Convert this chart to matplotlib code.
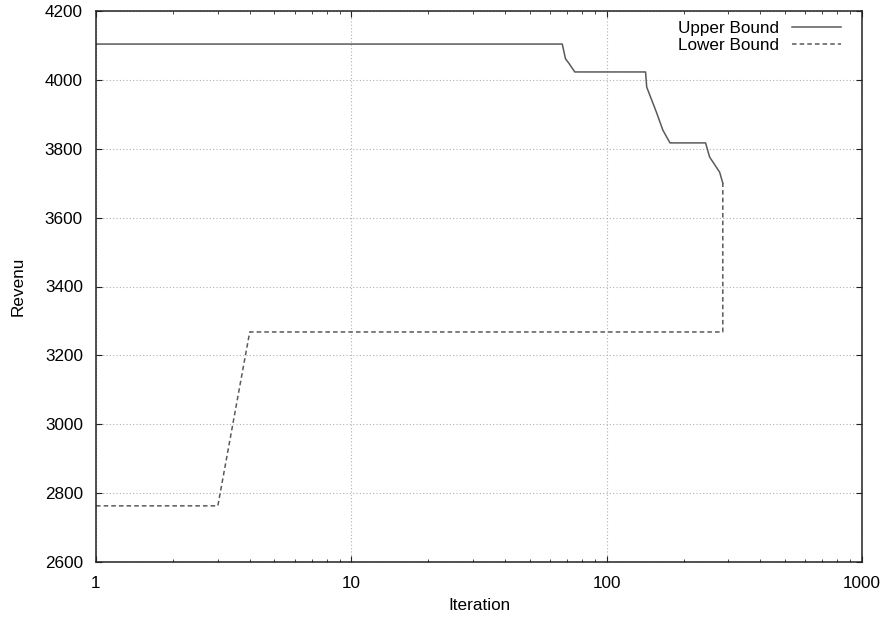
import matplotlib
matplotlib.use("Agg")
import matplotlib.pyplot as plt
from matplotlib.ticker import LogLocator, FixedLocator, NullFormatter

plt.rcParams['font.family'] = ['Liberation Sans', 'DejaVu Sans']

ub_iter = [1, 67, 69, 71, 75, 142, 143.5, 157, 166, 177, 244, 253, 277, 285]
ub_val = [4104, 4104, 4061, 4049, 4023, 4023, 3979, 3904, 3854, 3817, 3817, 3776, 3732, 3700]
lb_iter = [1, 3, 4, 285, 285]
lb_val = [2763, 2763, 3268, 3268, 3700]
xticks = [1, 10, 100, 1000]
yticks = [2600, 2800, 3000, 3200, 3400, 3600, 3800, 4000, 4200]

FS = 12.3
W, H = 890, 622
fig = plt.figure(figsize=(W / 100, H / 100), dpi=100)
ax = fig.add_axes([96 / W, (H - 562) / H, 766 / W, 551 / H])
ax.plot(ub_iter, ub_val, color='#5a5a5a', lw=1.1, ls='-', label='Upper Bound')
ax.plot(lb_iter, lb_val, color='#5a5a5a', lw=1.1, ls=(0, (3, 2)), label='Lower Bound')
ax.set_xscale('log')
ax.set_xlim(1, 1000)
ax.set_ylim(2600, 4200)
ax.xaxis.set_major_locator(FixedLocator(xticks))
ax.set_xticklabels([str(t) for t in xticks])
ax.xaxis.set_minor_locator(LogLocator(base=10, subs=range(2, 10)))
ax.xaxis.set_minor_formatter(NullFormatter())
ax.set_yticks(yticks)
ax.grid(True, which='major', color='#b0b0b0', ls=(0, (1, 2)), lw=0.8)
ax.tick_params(which='both', direction='in', top=True, right=True, labelsize=FS, color='#222222')
ax.tick_params(axis='y', which='major', length=4.5, pad=9.4)
ax.tick_params(axis='x', which='major', length=4.5, pad=10)
ax.tick_params(axis='x', which='minor', length=2.5)
for s in ax.spines.values():
    s.set_linewidth(1.1)
    s.set_color('#222222')
ax.set_xlabel('Iteration', fontsize=FS, labelpad=5)
ax.set_ylabel('Revenu', fontsize=FS, labelpad=14)
leg = ax.legend(loc='upper right', frameon=False, markerfirst=False, fontsize=FS,
                handlelength=2.87, handletextpad=0.76, borderpad=0, borderaxespad=0,
                labelspacing=0.14,
                bbox_to_anchor=(841 / W, (H - 20.5) / H), bbox_transform=fig.transFigure)
fig.savefig('out.png', dpi=100)
